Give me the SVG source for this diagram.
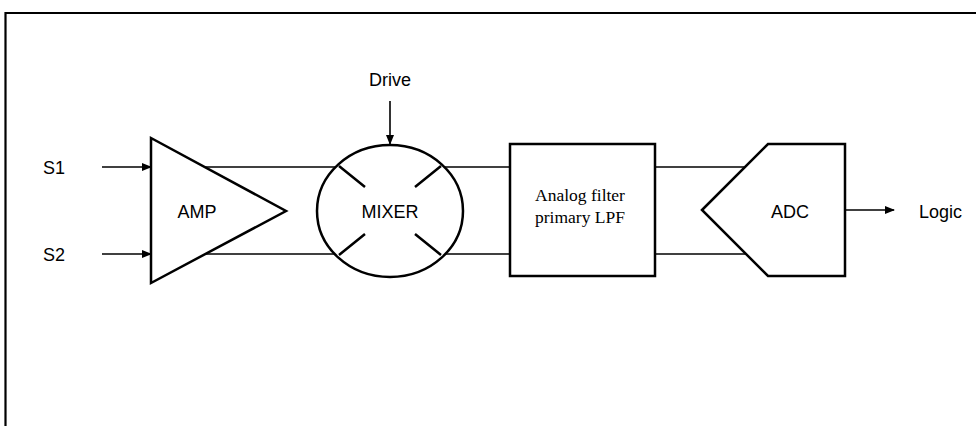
<svg xmlns="http://www.w3.org/2000/svg" width="976" height="426" viewBox="0 0 976 426">
<style>
.shape{fill:#fff;stroke:#000;stroke-width:2.5;stroke-linejoin:miter}
.wire{fill:none;stroke:#000;stroke-width:1.6}
.lbl{font-family:"Liberation Sans",Arial,sans-serif;font-size:18px;fill:#000}
.serif{font-family:"Liberation Serif","Times New Roman",serif;font-size:17.5px;fill:#000}
</style>
<defs>
<marker id="arr" markerWidth="10" markerHeight="8" refX="9" refY="4" orient="auto" markerUnits="userSpaceOnUse">
<path d="M0,0 L10,4 L0,8 Z" fill="#000"/>
</marker>
</defs>
<rect width="976" height="426" fill="#fff"/>
<path d="M5.5,430 V13 H980" fill="none" stroke="#000" stroke-width="2.2"/>
<g id="connectors">
<line class="wire" x1="102" y1="167" x2="151" y2="167" marker-end="url(#arr)"/>
<line class="wire" x1="102" y1="254" x2="151" y2="254" marker-end="url(#arr)"/>
<line class="wire" x1="151" y1="167" x2="340" y2="167"/>
<line class="wire" x1="151" y1="254" x2="340" y2="254"/>
<line class="wire" x1="440" y1="167" x2="510" y2="167"/>
<line class="wire" x1="440" y1="254" x2="510" y2="254"/>
<line class="wire" x1="655" y1="167" x2="746" y2="167"/>
<line class="wire" x1="655" y1="254" x2="746" y2="254"/>
<line class="wire" x1="390" y1="101" x2="390" y2="144" marker-end="url(#arr)"/>
<line class="wire" x1="845" y1="210" x2="894" y2="210" marker-end="url(#arr)"/>
</g>
<g id="s1"><text class="lbl" x="43" y="173.5">S1</text></g>
<g id="s2"><text class="lbl" x="43" y="260.5">S2</text></g>
<g id="drive"><text class="lbl" x="390" y="86" text-anchor="middle">Drive</text></g>
<g id="amp">
<polygon class="shape" points="151,138 286,211 151,283"/>
<text class="lbl" x="197" y="217.5" text-anchor="middle">AMP</text>
</g>
<g id="mixer">
<ellipse class="shape" cx="390" cy="211" rx="73" ry="66"/>
<path d="M339,166 L365,187 M441,166 L415,187 M339,255 L365,234 M441,255 L415,234" fill="none" stroke="#000" stroke-width="2.5"/>
<text class="lbl" x="390" y="217.5" text-anchor="middle">MIXER</text>
</g>
<g id="filter">
<rect class="shape" x="510" y="144" width="145" height="132"/>
<text class="serif" x="580" y="201" text-anchor="middle">Analog filter</text>
<text class="serif" x="580" y="223" text-anchor="middle">primary LPF</text>
</g>
<g id="adc">
<polygon class="shape" points="702,210 768,144 845,144 845,276 768,276"/>
<text class="lbl" x="790" y="217.5" text-anchor="middle">ADC</text>
</g>
<g id="logic"><text class="lbl" x="919" y="217.5">Logic</text></g>
</svg>
